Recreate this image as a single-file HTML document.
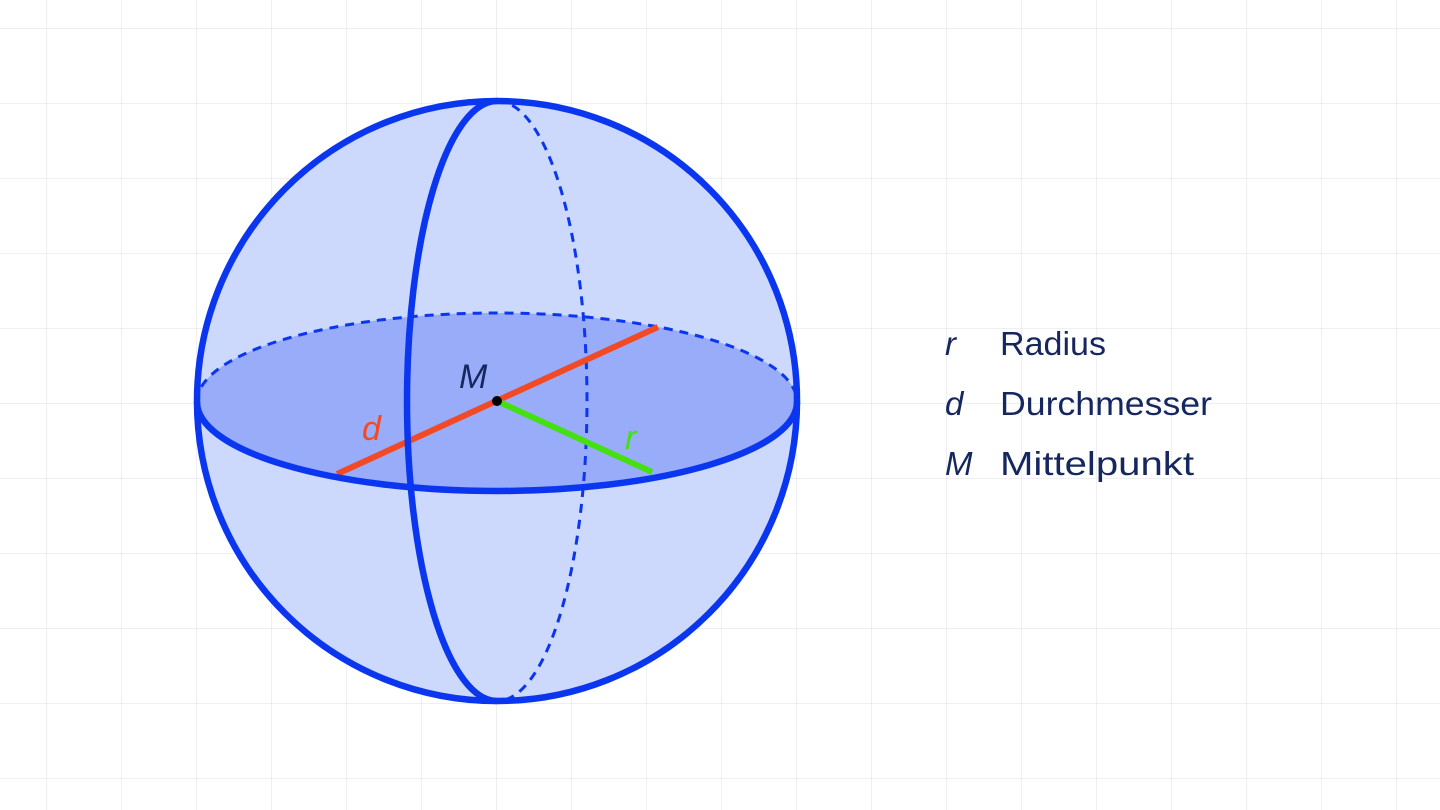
<!DOCTYPE html>
<html><head><meta charset="utf-8"><style>
html,body{margin:0;padding:0;background:#fff;}
svg{display:block}
</style></head><body>
<svg width="1440" height="810" viewBox="0 0 1440 810" xmlns="http://www.w3.org/2000/svg">
<defs>
<pattern id="g" x="46" y="28" width="75" height="75" patternUnits="userSpaceOnUse">
<path d="M0 0H75M0 0V75" stroke="#dcdfe6" stroke-width="1" fill="none"/>
</pattern>
</defs>
<rect width="1440" height="810" fill="#fff"/>
<rect width="1440" height="810" fill="url(#g)"/>
<circle cx="497" cy="401" r="300" fill="#ccd8fc"/>
<ellipse cx="497" cy="402" rx="300" ry="89" fill="#98acfa"/>
<path d="M197 402 A300 89 0 0 1 797 402" fill="none" stroke="#0a36f0" stroke-width="3" stroke-dasharray="9 7"/>
<path d="M497 101 A90 300 0 0 1 497 701" fill="none" stroke="#0a36f0" stroke-width="3" stroke-dasharray="9 7"/>
<line x1="337" y1="474" x2="658" y2="327" stroke="#f24a24" stroke-width="6"/>
<line x1="497" y1="401" x2="652" y2="472" stroke="#44e014" stroke-width="6"/>
<path d="M497 101 A90 300 0 0 0 497 701" fill="none" stroke="#0a36f0" stroke-width="6.5"/>
<path d="M197 402 A300 89 0 0 0 797 402" fill="none" stroke="#0a36f0" stroke-width="6.5"/>
<circle cx="497" cy="401" r="300" fill="none" stroke="#0a36f0" stroke-width="6.5"/>
<circle cx="497" cy="401" r="5" fill="#000"/>
<g font-family="Liberation Sans, sans-serif" font-size="34" font-style="italic">
<text x="459" y="388" fill="#15275e">M</text>
<text x="362" y="440" fill="#f24a24">d</text>
<text x="625" y="449" fill="#44e014">r</text>
</g>
<g font-family="Liberation Sans, sans-serif" font-size="33" fill="#15275e">
<text x="945" y="355" font-style="italic">r</text>
<text x="945" y="415" font-style="italic">d</text>
<text x="945" y="475" font-style="italic">M</text>
<text x="1000" y="355" textLength="106" lengthAdjust="spacingAndGlyphs">Radius</text>
<text x="1000" y="415" textLength="212" lengthAdjust="spacingAndGlyphs">Durchmesser</text>
<text x="1000" y="475" textLength="194" lengthAdjust="spacingAndGlyphs">Mittelpunkt</text>
</g>
</svg>
</body></html>
